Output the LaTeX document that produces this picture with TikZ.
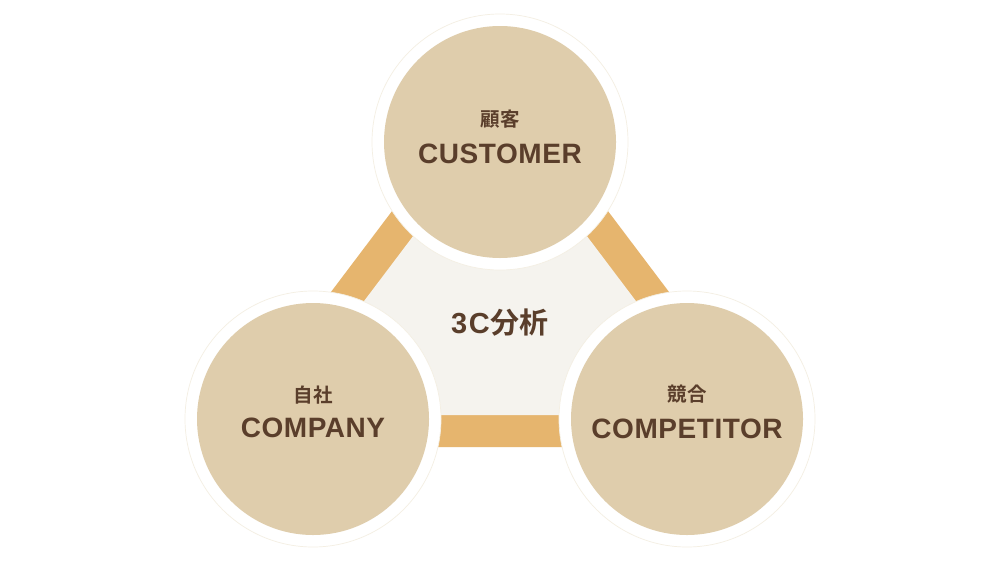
\documentclass[tikz,border=0pt]{standalone}
\usepackage{fontspec}
\setmainfont{Liberation Sans}
\newfontfamily\latb{Liberation Sans Bold}[LetterSpace=2]
\newfontfamily\latbw{Liberation Sans Bold}[LetterSpace=5]
\newfontfamily\cjkb{Noto Sans CJK JP Bold}
\definecolor{tan}{HTML}{DFCDAC}
\definecolor{band}{HTML}{E6B56E}
\definecolor{inner}{HTML}{F5F3EE}
\definecolor{txt}{HTML}{5A3E2B}
\definecolor{ringline}{HTML}{F4EFE3}
\tikzset{
  ring/.style={circle, fill=white, draw=ringline, line width=0.7pt, minimum size=256pt, inner sep=0pt},
  disc/.style={circle, fill=tan, minimum size=232pt, inner sep=0pt},
  jp/.style={text=txt, inner sep=0pt, font=\cjkb\fontsize{19.5}{21}\selectfont},
  en/.style={text=txt, inner sep=0pt, font=\latb\fontsize{28}{30}\selectfont},
  title/.style={text=txt, inner sep=0pt},
}
\begin{document}
\begin{tikzpicture}[x=1pt,y=-1pt]
\useasboundingbox[fill=white] (0,0) rectangle (1000,562);
% triangle
\coordinate (ta) at (500,68);
\coordinate (tb) at (214,447);
\coordinate (tc) at (786,447);
\coordinate (ia) at (500,121);
\coordinate (ib) at (278,415);
\coordinate (ic) at (722,415);
\fill[band] (ta) -- (tb) -- (tc) -- cycle;
\fill[inner] (ia) -- (ib) -- (ic) -- cycle;
% circles
\node[ring] (rtop) at (500,142) {};
\node[ring] (rleft) at (313,419) {};
\node[ring] (rright) at (687,419) {};
\node[disc] (ctop) at (500,142) {};
\node[disc] (cleft) at (313,419) {};
\node[disc] (cright) at (687,419) {};
% labels
\node[jp] (jtop) at (500,119.5) {顧客};
\node[en] (etop) at (500,153.5) {CUSTOMER};
\node[jp] (jleft) at (313,395) {自社};
\node[en] (eleft) at (313,428) {COMPANY};
\node[jp] (jright) at (687,394) {競合};
\node[en] (eright) at (687,428.5) {COMPETITOR};
\node[title] (center) at (500,323) {{\latbw\fontsize{29}{31}\selectfont 3C}\hspace{1pt}{\cjkb\fontsize{29}{31}\selectfont 分析}};
\end{tikzpicture}
\end{document}
